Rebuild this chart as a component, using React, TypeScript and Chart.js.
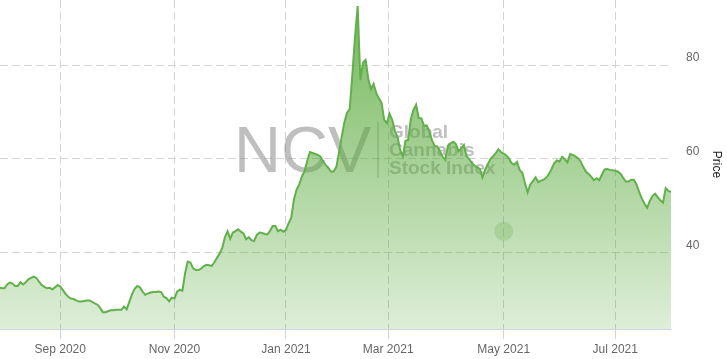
import React, { useEffect, useRef } from 'react';
import { Chart, registerables } from 'chart.js';

Chart.register(...registerables);

// Daily closing values (trading days, ~Jul 30 2020 .. Jul 30 2021)
const prices: number[] = [
  32.5, 32.3, 32.3, 33.1, 33.5, 33.3, 32.8, 32.8, 33.6, 33.1,
  33.6, 34.2, 34.5, 34.8, 34.5, 33.7, 33.0, 32.6, 32.3, 32.4,
  32.1, 32.5, 33.0, 32.7, 31.9, 31.1, 30.5, 30.1, 30.0, 29.7,
  29.5, 29.5, 29.6, 29.7, 29.7, 29.4, 29.1, 28.8, 28.1, 27.2,
  27.2, 27.4, 27.6, 27.6, 27.7, 27.7, 27.7, 28.4, 27.8, 29.4,
  31.0, 32.2, 32.8, 32.5, 31.6, 30.9, 31.2, 31.4, 31.5, 31.5,
  31.6, 31.5, 30.5, 30.2, 29.5, 30.3, 30.1, 31.6, 32.0, 31.8,
  35.5, 38.0, 37.8, 36.6, 36.2, 36.2, 36.5, 37.0, 37.3, 37.2,
  37.1, 37.8, 38.8, 39.7, 40.9, 43.2, 44.5, 42.9, 44.2, 44.5,
  44.9, 44.4, 44.0, 42.8, 43.2, 42.6, 42.4, 43.7, 44.2, 44.1,
  43.9, 43.8, 44.6, 45.6, 45.6, 44.5, 44.8, 44.4, 44.8, 46.2,
  47.4, 51.3, 53.4, 54.5, 56.2, 57.3, 59.5, 61.4, 61.2, 61.0,
  60.8, 60.4, 59.4, 58.6, 58.0, 57.2, 57.3, 58.3, 61.4, 64.7,
  67.8, 69.8, 70.6, 78.0, 86.0, 92.6, 76.8, 80.5, 81.1, 77.0,
  74.8, 76.0, 74.0, 72.9, 71.9, 68.3, 67.6, 69.6, 68.3, 66.0,
  64.6, 61.9, 60.5, 63.8, 64.0, 68.4, 70.4, 71.5, 68.7, 68.6,
  67.0, 67.1, 65.8, 63.9, 62.7, 62.6, 61.6, 60.4, 59.7, 62.8,
  63.3, 63.6, 63.1, 61.6, 62.2, 62.9, 60.5, 59.9, 59.1, 58.5,
  58.2, 57.8, 56.0, 57.6, 58.8, 59.9, 60.5, 61.2, 62.0, 61.4,
  61.1, 60.7, 60.0, 59.0, 58.7, 59.3, 57.6, 57.0, 54.8, 52.8,
  54.5, 55.2, 56.0, 55.0, 55.3, 55.5, 55.9, 56.7, 57.8, 59.0,
  59.6, 59.4, 60.4, 59.9, 59.2, 61.0, 60.8, 60.5, 60.1, 59.4,
  58.2, 57.2, 56.7, 56.1, 55.4, 55.8, 55.4, 56.6, 57.7, 57.8,
  57.6, 57.5, 57.4, 57.2, 56.8, 55.9, 55.1, 55.1, 55.5, 55.5,
  54.5, 52.9, 51.5, 50.4, 49.5, 50.9, 52.0, 52.5, 51.8, 51.1,
  50.6, 53.7, 53.1, 52.9,
];

// Month-start positions (trading-day index) and their labels
const xTickPositions: number[] = [23, 66, 108, 146.5, 190, 232];
const xTickLabels: string[] = ['Sep 2020', 'Nov 2020', 'Jan 2021', 'Mar 2021', 'May 2021', 'Jul 2021'];

const yTickValues: number[] = [40, 60, 80];
const yAxisTitle = 'Price';

// faint highlighted marker
const markerX: number[] = [190];
const markerY: number[] = [44.5];

const watermarkTitle = 'NCV';
const watermarkLines: string[] = ['Global', 'Cannabis', 'Stock Index'];

const FONT = '"Liberation Sans", Arial, Helvetica, sans-serif';

const watermarkPlugin = {
  id: 'ncvWatermark',
  beforeDatasetsDraw(chart: any) {
    const { ctx, chartArea } = chart;
    const ox = chartArea.left;
    const oy = chartArea.top;
    ctx.save();
    ctx.fillStyle = 'rgba(128,128,128,0.5)';
    ctx.textBaseline = 'alphabetic';
    ctx.textAlign = 'left';
    ctx.font = `65px ${FONT}`;
    ctx.fillText(watermarkTitle, ox + 234, oy + 172);
    ctx.strokeStyle = 'rgba(128,128,128,0.45)';
    ctx.lineWidth = 1.5;
    ctx.beginPath();
    ctx.moveTo(ox + 378, oy + 122);
    ctx.lineTo(ox + 378, oy + 178);
    ctx.stroke();
    ctx.font = `bold 19px ${FONT}`;
    watermarkLines.forEach((t, k) => {
      ctx.fillText(t, ox + 389, oy + 137.5 + k * 18.3);
    });
    ctx.restore();
  },
};

const zeroPadding = (scale: any) => {
  scale.paddingTop = 0;
  scale.paddingBottom = 0;
  scale.paddingLeft = 0;
  scale.paddingRight = 0;
};

export default function App() {
  const canvasRef = useRef<HTMLCanvasElement | null>(null);

  useEffect(() => {
    const canvas = canvasRef.current;
    if (!canvas) return;

    const lineData = prices.map((v, i) => ({ x: i, y: v }));
    const markerData = markerX.map((x, i) => ({ x, y: markerY[i] }));

    const chart = new Chart(canvas, {
      type: 'line',
      data: {
        datasets: [
          {
            label: 'Marker',
            data: markerData,
            showLine: false,
            pointRadius: 9.5,
            pointHoverRadius: 9.5,
            pointBackgroundColor: 'rgba(110,175,85,0.28)',
            pointBorderWidth: 0,
            pointBorderColor: 'rgba(0,0,0,0)',
            fill: false,
          },
          {
            label: 'Price',
            data: lineData,
            borderColor: 'rgb(98,176,76)',
            borderWidth: 2,
            pointRadius: 0,
            tension: 0,
            fill: 'start',
            backgroundColor: (c: any) => {
              const { chart: ch } = c;
              const area = ch.chartArea;
              if (!area) return 'rgba(90,170,60,0.5)';
              const g = ch.ctx.createLinearGradient(0, area.top, 0, area.bottom);
              g.addColorStop(0, 'rgba(90,170,60,0.85)');
              g.addColorStop(1, 'rgba(90,170,60,0.2)');
              return g;
            },
          },
        ],
      },
      options: {
        animation: false,
        responsive: false,
        maintainAspectRatio: false,
        devicePixelRatio: 1,
        layout: { padding: 0, autoPadding: false },
        plugins: {
          legend: { display: false },
          tooltip: { enabled: false },
        },
        events: [],
        scales: {
          x: {
            type: 'linear',
            min: 0.3,
            max: 253,
            afterBuildTicks: (scale: any) => {
              scale.ticks = xTickPositions.map((v) => ({ value: v }));
            },
            afterFit: (scale: any) => {
              scale.height = 30;
              zeroPadding(scale);
            },
            ticks: {
              autoSkip: false,
              maxRotation: 0,
              minRotation: 0,
              color: '#666666',
              padding: 3,
              font: { family: FONT, size: 12 },
              callback: (value: any) => {
                const k = xTickPositions.indexOf(Number(value));
                return k >= 0 ? xTickLabels[k] : '';
              },
            },
            grid: {
              color: '#d2d2d2',
              lineWidth: 1,
              drawTicks: true,
              tickLength: 10,
              tickColor: '#ccd6eb',
            },
            border: { display: true, color: '#ccd6eb', width: 1, dash: [8, 4] },
          },
          y: {
            type: 'linear',
            position: 'right',
            min: 23.6,
            max: 93.9,
            afterBuildTicks: (scale: any) => {
              scale.ticks = yTickValues.map((v) => ({ value: v }));
            },
            afterFit: (scale: any) => {
              scale.width = 56;
              zeroPadding(scale);
            },
            ticks: {
              color: '#666666',
              padding: 15,
              labelOffset: -7,
              font: { family: FONT, size: 12 },
            },
            grid: {
              color: '#d2d2d2',
              lineWidth: 1,
              drawTicks: false,
            },
            border: { display: false, dash: [8, 4] },
            title: {
              display: true,
              text: yAxisTitle,
              color: '#222222',
              font: { family: FONT, size: 12 },
              padding: { top: 3, bottom: 3 },
            },
          },
        },
      },
      plugins: [watermarkPlugin],
    });

    return () => {
      chart.destroy();
    };
  }, []);

  return (
    <div style={{ position: 'fixed', left: 0, top: 0, width: 727, height: 359, background: '#ffffff' }}>
      <canvas ref={canvasRef} width={727} height={359} style={{ display: 'block', width: 727, height: 359 }} />
    </div>
  );
}
